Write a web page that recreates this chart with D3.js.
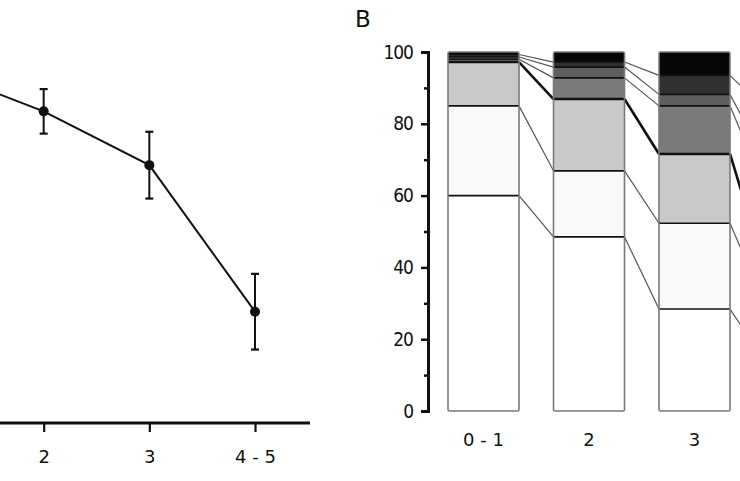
<!DOCTYPE html>
<html>
<head>
<meta charset="utf-8">
<script src="https://cdn.jsdelivr.net/npm/d3@7"></script>
<style>
  html, body { margin: 0; padding: 0; background: #fff; }
  svg { display: block; }
  text { font-family: "DejaVu Sans", "Liberation Sans", Arial, sans-serif; fill: #111; }
  .condensed { font-stretch: condensed; }
</style>
</head>
<body>
<svg id="chart" width="740" height="481"></svg>
<script>
// ---------- DATA ----------
const categories = ["0 - 1", "2", "3", "4 - 5"];

// Panel A: mean and error (half-length) per category
const meanA = [95, 84, 69.5, 30];
const errA = [3, 6, 9, 10.2];

// Panel B: stacked shares per category (bottom to top)
const level1 = [60, 48.5, 28.4, 14];
const level2 = [25, 18.4, 23.9, 16];
const level3 = [12.2, 20.0, 19.3, 10];
const level4 = [0.8, 5.9, 13.4, 22];
const level5 = [0.6, 3.0, 3.2, 8];
const level6 = [0.7, 1.4, 5.3, 14];
const level7 = [0.7, 2.8, 6.5, 16];

const yTicksB = [0, 20, 40, 60, 80, 100];
const yMinorB = [10, 30, 50, 70, 90];
const panelLabel = "B";

// ---------- SETUP ----------
const W = 740;
const svg = d3.select("#chart");
svg.append("rect").attr("width", 740).attr("height", 481).attr("fill", "#fff");
const FONT = "DejaVu Sans, Liberation Sans, Arial, sans-serif";
const FONT_C = "DejaVu Sans Condensed, DejaVu Sans, Liberation Sans Narrow, sans-serif";

// ---------- PANEL A ----------
const xA = d3.scalePoint().domain(categories).range([-62, 255]);
const yA = d3.scaleLinear().domain([0, 100]).range([423, 52]);
const gA = svg.append("g");

// x axis
const axA = gA.append("g").attr("transform", "translate(0,423)")
  .call(d3.axisBottom(xA).tickSize(9).tickSizeOuter(0).tickPadding(18));
axA.select(".domain").remove();
axA.selectAll(".tick").filter(d => xA(d) < 15).select("text").remove();
axA.selectAll(".tick line").attr("stroke", "#111").attr("stroke-width", 2.2);
axA.selectAll(".tick text").attr("font-size", 18).attr("font-family", FONT).attr("fill", "#111");
gA.append("line").attr("x1", -80).attr("x2", 310).attr("y1", 423).attr("y2", 423)
  .attr("stroke", "#111").attr("stroke-width", 2.8);

const dataA = categories.map((c, i) => ({c, m: meanA[i], e: errA[i]}));
gA.append("path").datum(dataA)
  .attr("fill", "none").attr("stroke", "#111").attr("stroke-width", 2)
  .attr("d", d3.line().x(d => xA(d.c)).y(d => yA(d.m)));

const eb = gA.selectAll(".eb").data(dataA).enter().append("g");
eb.append("line").attr("x1", d => xA(d.c)).attr("x2", d => xA(d.c))
  .attr("y1", d => yA(d.m + d.e)).attr("y2", d => yA(d.m - d.e))
  .attr("stroke", "#111").attr("stroke-width", 2);
eb.append("line").attr("x1", d => xA(d.c) - 4).attr("x2", d => xA(d.c) + 4)
  .attr("y1", d => yA(d.m + d.e)).attr("y2", d => yA(d.m + d.e))
  .attr("stroke", "#111").attr("stroke-width", 2.2);
eb.append("line").attr("x1", d => xA(d.c) - 4).attr("x2", d => xA(d.c) + 4)
  .attr("y1", d => yA(d.m - d.e)).attr("y2", d => yA(d.m - d.e))
  .attr("stroke", "#111").attr("stroke-width", 2.2);
eb.append("circle").attr("cx", d => xA(d.c)).attr("cy", d => yA(d.m)).attr("r", 5)
  .attr("fill", "#111");

// ---------- PANEL B ----------
const levels = [level1, level2, level3, level4, level5, level6, level7];
const keys = levels.map((_, i) => "L" + (i + 1));
const fills = ["#ffffff", "#f9f9f9", "#c9c9c9", "#7a7a7a", "#5e5e5e", "#303030", "#060606"];
const table = categories.map((c, j) => {
  const row = {cat: c};
  levels.forEach((arr, i) => row[keys[i]] = arr[j]);
  return row;
});
const series = d3.stack().keys(keys)(table);

const xB = d3.scaleBand().domain(categories).range([448, 835.5]).paddingInner(0.327).paddingOuter(0);
const yB = d3.scaleLinear().domain([0, 100]).range([411, 52]);
const gB = svg.append("g");

// segments
series.forEach((s, i) => {
  gB.selectAll(null).data(s).enter().append("rect")
    .attr("x", d => xB(d.data.cat))
    .attr("width", xB.bandwidth())
    .attr("y", d => yB(d[1]))
    .attr("height", d => yB(d[0]) - yB(d[1]))
    .attr("fill", fills[i]);
});

// connecting lines between bars & boundary lines inside bars
series.slice(0, series.length - 1).forEach((s, i) => {
  const thick = (i === 2);
  for (let j = 0; j < categories.length; j++) {
    const d = s[j];
    gB.append("line")
      .attr("x1", xB(d.data.cat)).attr("x2", xB(d.data.cat) + xB.bandwidth())
      .attr("y1", yB(d[1])).attr("y2", yB(d[1]))
      .attr("stroke", "#111").attr("stroke-width", thick ? 2.6 : 1.6);
    if (j < categories.length - 1) {
      const n = s[j + 1];
      gB.append("line")
        .attr("x1", xB(d.data.cat) + xB.bandwidth()).attr("y1", yB(d[1]))
        .attr("x2", xB(n.data.cat)).attr("y2", yB(n[1]))
        .attr("stroke", thick ? "#111" : "#555").attr("stroke-width", thick ? 2.6 : 1.2);
    }
  }
});

// bar outlines
gB.selectAll(".outline").data(categories).enter().append("rect")
  .attr("x", d => xB(d)).attr("width", xB.bandwidth())
  .attr("y", yB(100)).attr("height", yB(0) - yB(100))
  .attr("rx", 1.5)
  .attr("fill", "none").attr("stroke", "#7a7a7a").attr("stroke-width", 1.6);

// y axis
const axB = gB.append("g").attr("transform", "translate(428,0)")
  .call(d3.axisLeft(yB).tickValues(yTicksB).tickSize(7).tickSizeOuter(7).tickPadding(8).tickFormat(d3.format("d")));
axB.select(".domain").attr("stroke", "#111").attr("stroke-width", 3);
axB.selectAll(".tick line").attr("stroke", "#111").attr("stroke-width", 2.5);
axB.selectAll(".tick text").attr("font-size", 19).attr("letter-spacing", "-1px")
  .attr("class", "condensed")
  .attr("font-family", FONT_C).attr("fill", "#111");
const axBm = gB.append("g").attr("transform", "translate(428,0)")
  .call(d3.axisLeft(yB).tickValues(yMinorB).tickSize(4).tickFormat(""));
axBm.select(".domain").remove();
axBm.selectAll(".tick line").attr("stroke", "#111").attr("stroke-width", 2.5);

// x labels
const axBx = gB.append("g").attr("transform", "translate(0,411)")
  .call(d3.axisBottom(xB).tickSize(0).tickPadding(22));
axBx.select(".domain").remove();
axBx.selectAll(".tick").filter(d => xB(d) + xB.bandwidth() / 2 > W - 20).select("text").remove();
axBx.selectAll(".tick text").attr("font-size", 18)
  .attr("font-family", FONT).attr("fill", "#111");

// panel label
svg.append("text").attr("x", 355).attr("y", 27).attr("font-size", 23)
  .attr("font-family", FONT).text(panelLabel);
</script>
</body>
</html>
